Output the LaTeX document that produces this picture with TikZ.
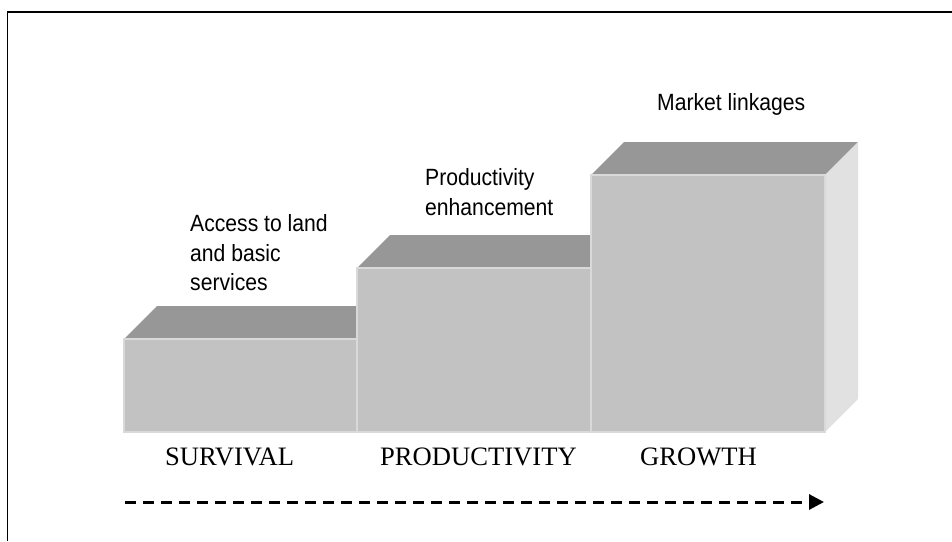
\documentclass[tikz,border=0pt]{standalone}
\usepackage{fontspec}
\setmainfont{Liberation Serif}
\newfontfamily\labelfont[FakeStretch=0.9]{Liberation Sans}
\usetikzlibrary{arrows.meta}

\definecolor{frontgray}{HTML}{C2C2C2}
\definecolor{topgray}{HTML}{979797}
\definecolor{sidegray}{HTML}{E1E1E1}
\definecolor{edgegray}{HTML}{D9D9D9}

\tikzset{
  front/.style={fill=frontgray, draw=edgegray, line width=1.2pt, line join=miter},
  topface/.style={fill=topgray},
  sideface/.style={fill=sidegray},
  note/.style={font=\labelfont\fontsize{23.5}{29.5}\selectfont, align=left, inner sep=0pt, anchor=base west},
  stage/.style={font=\fontsize{26.6}{30}\selectfont, inner sep=0pt, anchor=base west},
  frame/.style={line width=1.8pt, black},
  progress/.style={line width=3pt, dash pattern=on 11pt off 7pt,
    -{Triangle[length=15pt,width=15pt]}}
}

\begin{document}
\begin{tikzpicture}[x=1pt,y=-1pt]
\useasboundingbox (0,0) rectangle (952,541);

% open frame: left and top rules
\draw[frame] (7.5,541) -- (7.5,12) -- (952,12);

% step 1: survival
\fill[topface] (124,339) -- (157,306) -- (357,306) -- (357,339) -- cycle;
\draw[front] (124,339) rectangle (357,432);

% step 2: productivity
\fill[topface] (357,268) -- (390,235) -- (591,235) -- (591,268) -- cycle;
\draw[front] (357,268) rectangle (591,432);

% step 3: growth
\fill[topface] (591,175) -- (624,142) -- (858,142) -- (825,175) -- cycle;
\fill[sideface] (825,175) -- (858,142) -- (858,399) -- (825,432) -- cycle;
\draw[front] (591,175) rectangle (825,432);

% notes above the steps (anchored on the last line's baseline)
\node[note] (access) at (190,290.5) {Access to land\\and basic\\services};
\node[note] (enhance) at (425,215) {Productivity\\enhancement};
\node[note] (market) at (657,110) {Market linkages};

% stage names
\node[stage] (survival) at (165,465) {SURVIVAL};
\node[stage] (productivity) at (380,465) {PRODUCTIVITY};
\node[stage] (growth) at (640,465) {GROWTH};

% direction of progress
\coordinate (arrowstart) at (125,502);
\coordinate (arrowend) at (824,502);
\draw[progress] (arrowstart) -- (arrowend);
\end{tikzpicture}
\end{document}
